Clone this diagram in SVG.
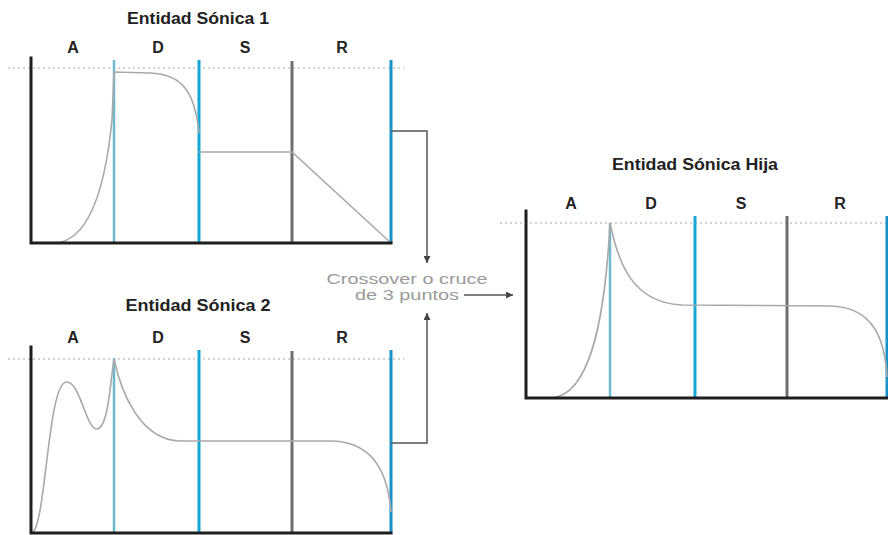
<svg xmlns="http://www.w3.org/2000/svg" width="888" height="535" viewBox="0 0 888 535">
<style>
.title{font-family:"Liberation Sans",Arial,sans-serif;font-size:16px;font-weight:bold;fill:#222;text-anchor:middle}
.lab{font-family:"Liberation Sans",Arial,sans-serif;font-size:16px;font-weight:bold;fill:#222;text-anchor:middle}
.axis{stroke:#1e1e1e;stroke-width:3;fill:none;stroke-linecap:square}
.dot{stroke:#a8a8a8;stroke-width:1.2;stroke-dasharray:2,3;fill:none}
.v1{stroke:#6fb9cd;stroke-width:2.5}
.v2{stroke:#17a7d6;stroke-width:3}
.v3{stroke:#6e6e6e;stroke-width:3}
.v4{stroke:#1890c8;stroke-width:3}
.curve{stroke:#a9a9a9;stroke-width:1.6;fill:none}
.conn{stroke:#555;stroke-width:1.5;fill:none}
.note{font-family:"Liberation Sans",Arial,sans-serif;font-size:15px;fill:#9a9a9a}
</style>
<defs>
<marker id="ah" viewBox="0 0 10 10" refX="10" refY="5" markerWidth="7" markerHeight="7" orient="auto" markerUnits="userSpaceOnUse">
<path d="M0,0 L10,5 L0,10 z" fill="#444"/>
</marker>
</defs>

<g id="entidad1">
<text class="title" x="198" y="24" textLength="142" lengthAdjust="spacingAndGlyphs">Entidad Sónica 1</text>
<text class="lab" x="73" y="53">A</text>
<text class="lab" x="158" y="53">D</text>
<text class="lab" x="245" y="53">S</text>
<text class="lab" x="342" y="53">R</text>
<line class="dot" x1="8" y1="68" x2="404" y2="68"/>
<line class="v1" x1="114" y1="60" x2="114" y2="243"/>
<line class="v2" x1="199" y1="60" x2="199" y2="243"/>
<line class="v3" x1="292" y1="61" x2="292" y2="243"/>
<line class="v4" x1="391" y1="60" x2="391" y2="243"/>
<path class="curve" d="M55,243 C85,241 104,200 112,120 L114,72 L150,73 C182,74 195,92 199,133"/>
<path class="curve" d="M199,152 L292,152 L391,243"/>
<path class="axis" d="M31,58 L31,243 L391,243"/>
</g>

<g id="entidad2">
<text class="title" x="198" y="311" textLength="145" lengthAdjust="spacingAndGlyphs">Entidad Sónica 2</text>
<text class="lab" x="73" y="343">A</text>
<text class="lab" x="158" y="343">D</text>
<text class="lab" x="245" y="343">S</text>
<text class="lab" x="342" y="343">R</text>
<line class="dot" x1="8" y1="359" x2="404" y2="359"/>
<line class="v1" x1="114" y1="358" x2="114" y2="533"/>
<line class="v2" x1="199" y1="350" x2="199" y2="533"/>
<line class="v3" x1="292" y1="351" x2="292" y2="533"/>
<line class="v4" x1="391" y1="350" x2="391" y2="533"/>
<path class="curve" d="M33,532 C46,520 48,385 66,382 C80,380 86,430 97,429 C108,428 110,385 114,359 C121,392 140,440 180,441 L330,441 C372,441 388,472 391,512"/>
<path class="axis" d="M31,347 L31,533 L391,533"/>
</g>

<g id="entidad-hija">
<text class="title" x="695" y="170" textLength="166" lengthAdjust="spacingAndGlyphs">Entidad Sónica Hija</text>
<text class="lab" x="571" y="209">A</text>
<text class="lab" x="651" y="209">D</text>
<text class="lab" x="741" y="209">S</text>
<text class="lab" x="840" y="209">R</text>
<line class="dot" x1="500" y1="223" x2="888" y2="223"/>
<line class="v1" x1="610" y1="223" x2="610" y2="398"/>
<line class="v2" x1="695" y1="216" x2="695" y2="398"/>
<line class="v3" x1="787" y1="216" x2="787" y2="398"/>
<line class="v4" x1="887" y1="216" x2="887" y2="398"/>
<path class="curve" d="M551,398 C590,396 605,320 610,223 C618,262 632,303 682,305 L830,306 C874,307 885,340 887,377"/>
<path class="axis" d="M526,211 L526,398 L888,398"/>
</g>

<g id="connectors">
<path class="conn" d="M391,131 L427,131 L427,263" marker-end="url(#ah)"/>
<path class="conn" d="M391,443 L427,443 L427,313" marker-end="url(#ah)"/>
<path class="conn" d="M464,295 L513,295" marker-end="url(#ah)"/>
</g>

<g id="label-crossover">
<text class="note" x="407" y="284" text-anchor="middle" textLength="161" lengthAdjust="spacingAndGlyphs">Crossover o cruce</text>
<text class="note" x="459" y="300" text-anchor="end" textLength="104" lengthAdjust="spacingAndGlyphs">de 3 puntos</text>
</g>
</svg>
